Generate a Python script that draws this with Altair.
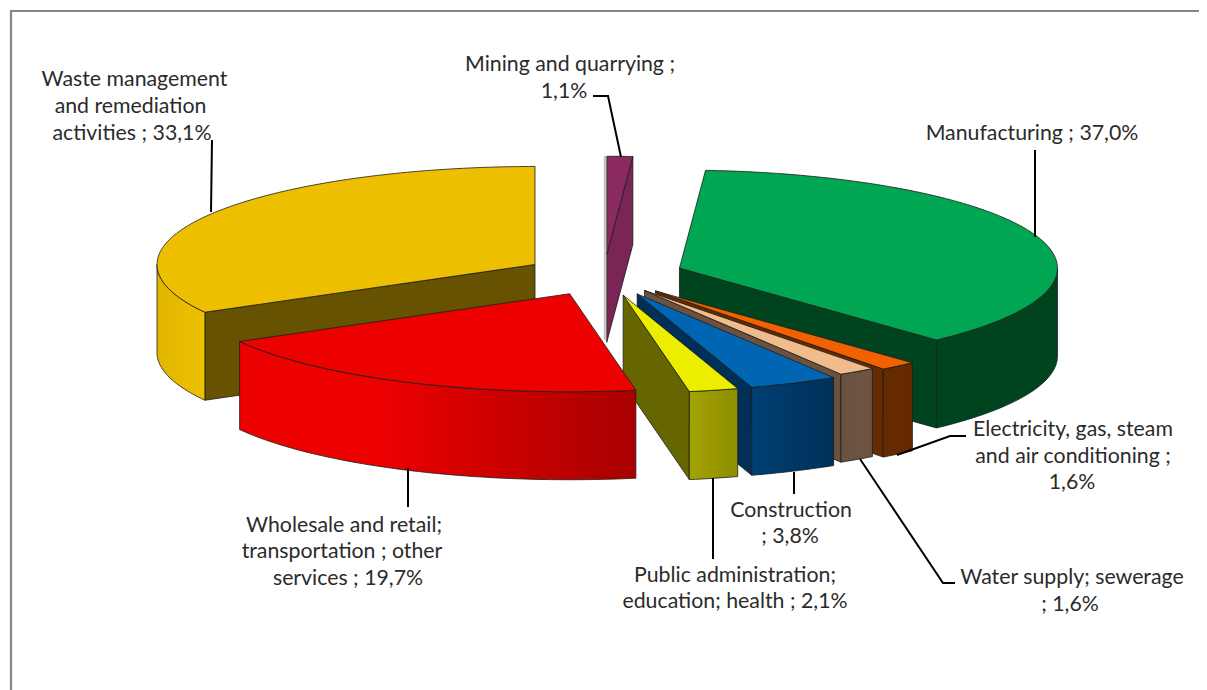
import numpy as np
import altair as alt

# Slices, clockwise from 12 o'clock
names = ["Mining and quarrying", "Manufacturing", "Electricity, gas, steam and air conditioning",
         "Water supply; sewerage", "Construction", "Public administration; education; health",
         "Wholesale and retail; transportation ; other services", "Waste management and remediation activities"]
shares = [1.1, 37.0, 1.6, 1.6, 3.8, 2.1, 19.7, 33.1]
explode = [80, 80, 80, 72, 80, 80, 80, 80]
top_colors = ["#8A2A60", "#00A651", "#F26100", "#F0BC8C", "#0066B3", "#EDED00", "#ED0000", "#EDBF00"]
side_colors = ["#7A2555", "#00441F", "#662A00", "#6B5240", "#003058", "#666600", "#A80000", "#665200"]
wall_from = ["#7A2555", "#00441F", "#662A00", "#6E5542", "#004073", "#A3A300", "#ED0000", "#E2B600"]
wall_to = ["#7A2555", "#00441F", "#662A00", "#6B5240", "#003058", "#8E8E00", "#A80000", "#EDC000"]
draw_order = [7, 0, 1, 2, 3, 4, 5, 6]

# Text lines of the labels: text, centre x, centre y
label_text = ["Waste management", "and remediation", "activities ; 33,1%",
              "Mining and quarrying ;", "1,1%", "Manufacturing ; 37,0%",
              "Electricity, gas, steam", "and air conditioning ;", "1,6%",
              "Water supply; sewerage", "; 1,6%", "Construction", "; 3,8%",
              "Public administration;", "education; health ; 2,1%",
              "Wholesale and retail;", "transportation ; other", "services ; 19,7%"]
label_x = [134.5, 130.5, 132, 570, 564, 1032, 1073, 1073, 1072, 1072, 1070, 791, 790, 735, 735, 344, 342, 348]
label_y = [79.5, 106.5, 133.5, 64.5, 91.5, 133.5, 429.5, 456.5, 482.5, 577.5, 604.5, 510.5, 536.5, 575.5, 601.5, 525.5, 551.5, 578.5]

# Leader lines
leaders = [
    [[212, 140], [211, 212]],
    [[593, 96], [608, 96], [621, 157]],
    [[1035, 150], [1035, 237]],
    [[897, 455], [950, 436], [966, 436]],
    [[860, 459], [943, 583], [955, 583]],
    [[794, 472], [794, 494]],
    [[713, 478], [713, 559]],
    [[408, 468], [408, 507]],
]

# Pie shape parameters
CX, CY, RX, RY, DEPTH = 604.0, 275.0, 378.0, 98.0, 88.0
W, H = 1191, 682
proj = alt.Projection(type="identity", scale=1, translate=[-8, -8])


def feature(kind, coords):
    return {"type": "Feature", "properties": {}, "geometry": {"type": kind, "coordinates": coords}}


def poly_layer(points, fill, stroke="#1c1c1c", sw=0.8):
    pts = [[float(x), float(y)] for x, y in points]
    pts.append(pts[0])
    return alt.Chart(alt.Data(values=[feature("Polygon", [pts])])).mark_geoshape(
        fill=fill, stroke=stroke, strokeWidth=sw, strokeJoin="round"
    ).project(**proj.to_dict())


def line_layer(points, color, sw):
    return alt.Chart(alt.Data(values=[feature("LineString", points)])).mark_geoshape(
        filled=False, stroke=color, strokeWidth=sw
    ).project(**proj.to_dict())


def rim(ax, ay, a, b, dz=0.0):
    ts = np.radians(np.linspace(a, b, max(2, int(abs(b - a)) + 2)))
    return [(ax + RX * np.sin(t), ay - RY * np.cos(t) + dz) for t in ts]


layers = [line_layer([[11, 690], [11, 11], [1207, 11]], "#868686", 2.2)]

edges = np.concatenate([[0], np.cumsum(shares) * 3.6])
for i in draw_order:
    a, b = edges[i], edges[i + 1]
    m = np.radians((a + b) / 2)
    ax = CX + explode[i] * np.sin(m)
    ay = CY - explode[i] * np.cos(m) * RY / RX
    # radial walls that face the viewer
    for ang, show in ((a, np.sin(np.radians(a)) < -1e-6), (b, np.sin(np.radians(b)) > 1e-6)):
        if show:
            p = rim(ax, ay, ang, ang)[0]
            layers.append(poly_layer([(ax, ay), p, (p[0], p[1] + DEPTH), (ax, ay + DEPTH)], side_colors[i]))
    # outer wall: only the near half of the rim
    lo, hi = max(a, 90.0), min(b, 270.0)
    if hi > lo:
        top = rim(ax, ay, lo, hi)
        bot = rim(ax, ay, hi, lo, DEPTH)
        fill = {"gradient": "linear", "x1": 0, "y1": 0, "x2": 1, "y2": 0,
                "stops": [{"offset": 0, "color": wall_to[i]},
                          {"offset": 1, "color": wall_from[i]}]} if i not in (6, 7, 4, 5) else \
               {"gradient": "linear", "x1": 0, "y1": 0, "x2": 1, "y2": 0,
                "stops": [{"offset": 0, "color": wall_from[i]},
                          {"offset": 0.35 if i == 6 else 0.0, "color": wall_from[i]},
                          {"offset": 1, "color": wall_to[i]}]}
        layers.append(poly_layer(top + bot, fill))
    # top face
    layers.append(poly_layer([(ax, ay)] + rim(ax, ay, a, b), top_colors[i]))

layers.append(line_layer([[605, 156], [605, 340]], "#c4c4c4", 2.5))
for pts in leaders:
    layers.append(line_layer(pts, "#000000", 2))

labels = alt.Chart(alt.Data(values=[{"t": t, "x": x, "y": y} for t, x, y in zip(label_text, label_x, label_y)]))
layers.append(labels.mark_text(font="Lato", fontSize=21.3, color="#2b2b2b", align="center", baseline="middle").encode(
    longitude="x:Q", latitude="y:Q", text="t:N").project(**proj.to_dict()))

chart = alt.layer(*layers).properties(
    width=W, height=H, padding=0, autosize=alt.AutoSizeParams(type="none"), background="white"
).configure_view(stroke=None)

chart.save("out.html", embed_options={"renderer": "svg", "actions": False})
